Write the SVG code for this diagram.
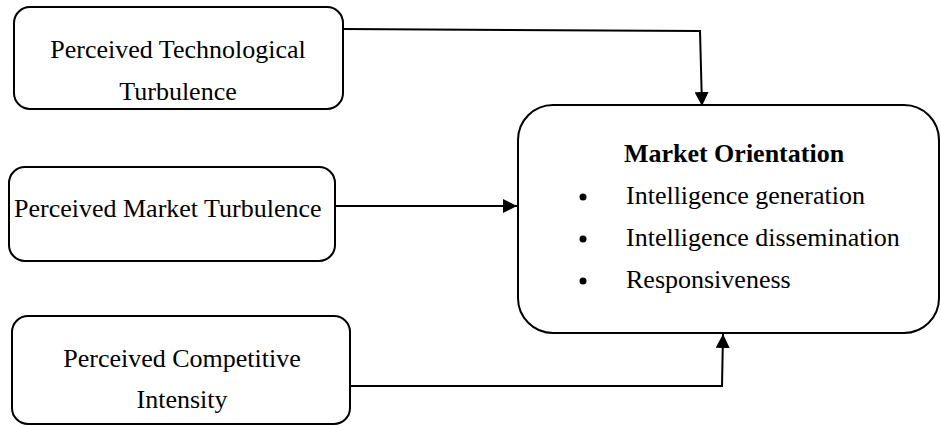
<svg xmlns="http://www.w3.org/2000/svg" width="941" height="425" viewBox="0 0 941 425">
<style>
.box{fill:#fff;stroke:#000;stroke-width:2}
.t{font-family:"Liberation Serif","Times New Roman",serif;font-size:26px;fill:#000}
.c{text-anchor:middle}
.b{font-weight:bold}
.con{fill:none;stroke:#000;stroke-width:2}
</style>
<defs>
<marker id="ah" markerUnits="userSpaceOnUse" markerWidth="14" markerHeight="14" refX="14" refY="7" orient="auto">
<path d="M0,0 L14,7 L0,14 z" fill="#000"/>
</marker>
</defs>
<rect width="941" height="425" fill="#fff"/>
<g id="connectors">
<polyline class="con" points="343,29 700,31 702,106" marker-end="url(#ah)"/>
<line class="con" x1="335" y1="206" x2="517" y2="206" marker-end="url(#ah)"/>
<polyline class="con" points="350,386 722,386 723,334" marker-end="url(#ah)"/>
</g>
<g id="tech">
<rect class="box" x="14" y="7" width="329" height="102" rx="16"/>
<text class="t c" x="178" y="58">Perceived Technological</text>
<text class="t c" x="178" y="100">Turbulence</text>
</g>
<g id="market">
<rect class="box" x="9" y="167" width="326" height="94" rx="16"/>
<text class="t" x="14" y="217">Perceived Market Turbulence</text>
</g>
<g id="competitive">
<rect class="box" x="12" y="316" width="338" height="108" rx="16"/>
<text class="t c" x="182" y="367">Perceived Competitive</text>
<text class="t c" x="182" y="408">Intensity</text>
</g>
<g id="orientation">
<rect class="box" x="518" y="105" width="421" height="228" rx="35"/>
<text class="t b c" x="734" y="162">Market Orientation</text>
<circle cx="583" cy="197" r="3.5" fill="#000"/>
<text class="t" x="626" y="204">Intelligence generation</text>
<circle cx="583" cy="239" r="3.5" fill="#000"/>
<text class="t" x="626" y="246">Intelligence dissemination</text>
<circle cx="583" cy="281" r="3.5" fill="#000"/>
<text class="t" x="626" y="288">Responsiveness</text>
</g>
</svg>
